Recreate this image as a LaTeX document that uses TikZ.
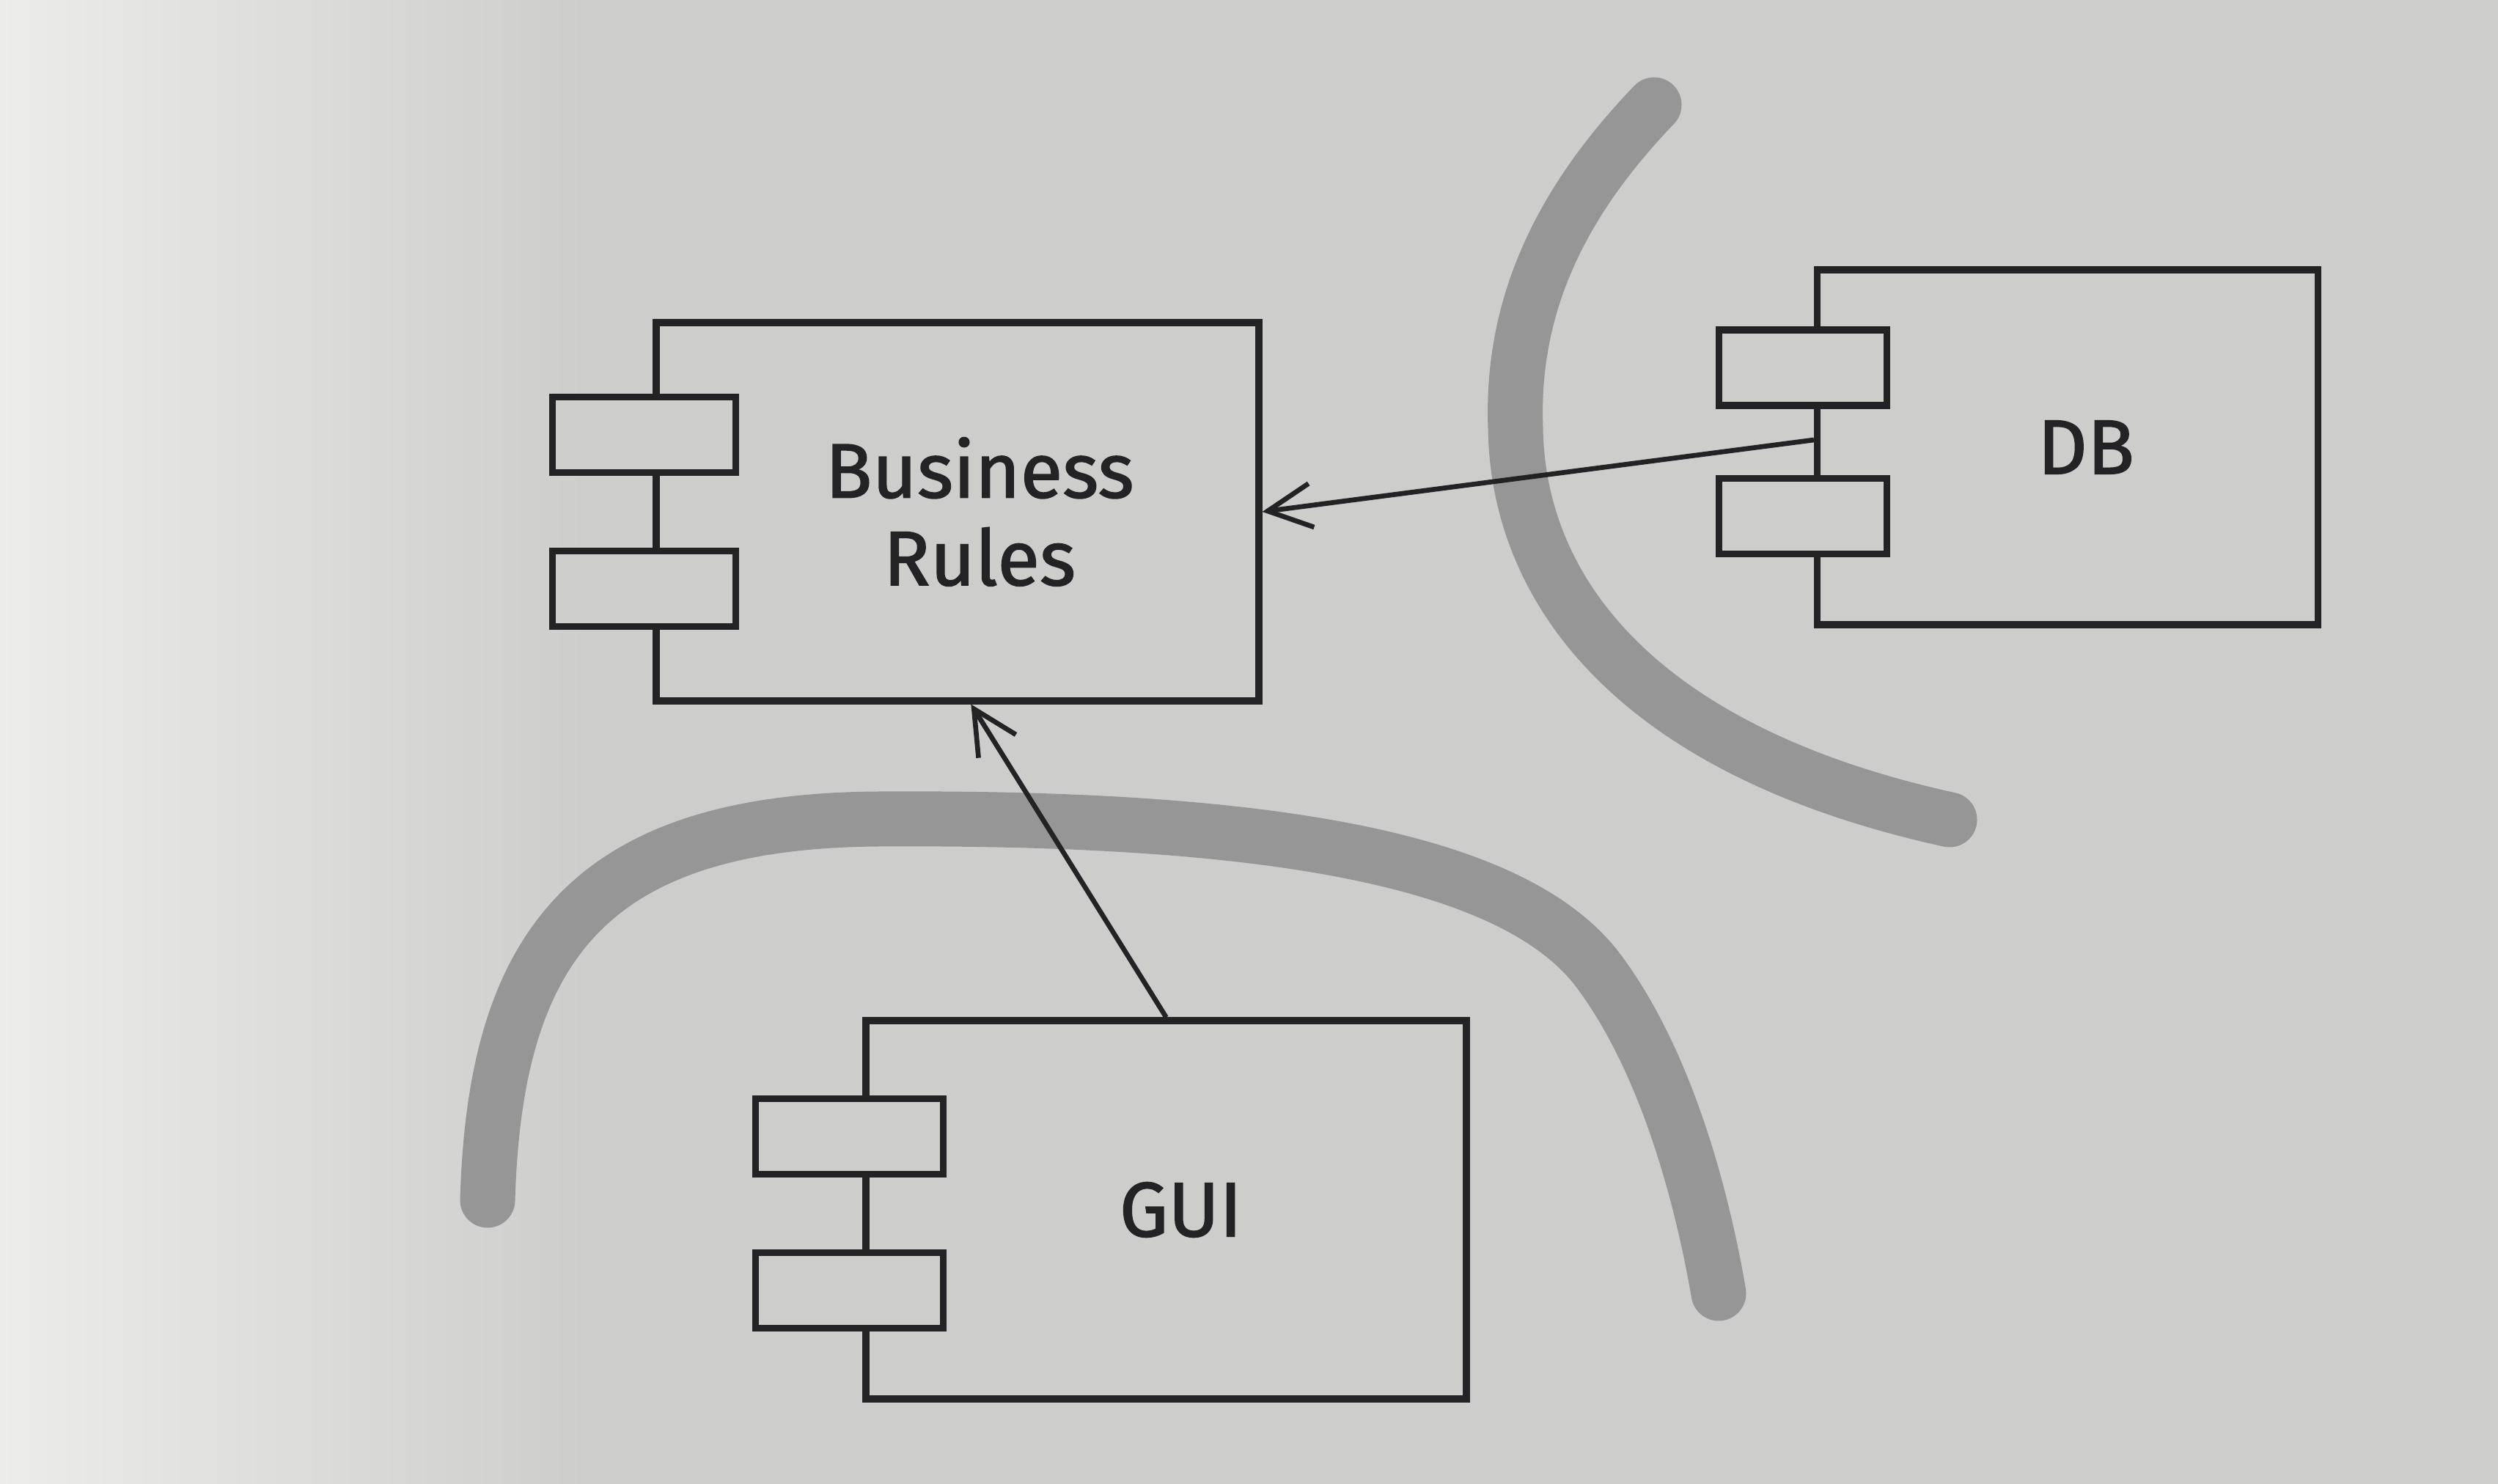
\documentclass[tikz,border=0pt]{standalone}
\usepackage{fontspec}
\setmainfont{Fira Sans}
\newfontfamily\compfont{Fira Sans}[FakeBold=1.4]
\usepackage{xcolor}
\usetikzlibrary{positioning,calc,arrows.meta}
\definecolor{paper}{RGB}{205,205,203}
\definecolor{paperlight}{RGB}{236,236,235}
\definecolor{marker}{RGB}{150,150,150}
\definecolor{ink}{RGB}{35,35,38}

\begin{document}
\begin{tikzpicture}[
            comp/.style={rectangle, draw=ink, line width=2.6pt, align=center, text=ink, font=\compfont\fontsize{30}{34}\selectfont},
            port/.style={rectangle, draw=ink, line width=2.6pt, fill=paper, minimum width=2.5cm, minimum height=1.03cm},
            arrow/.style={-{Straight Barb[length=0.6cm, width=0.6cm, line width=1.9pt]}, line width=1.9pt, ink},
            boundary/.style={line width=0.75cm, line cap=round, marker}
        ]

        % paper
        \fill[paper] (0,0) rectangle (34.07,20.24);
        \shade[left color=paperlight, right color=paper] (0,0) rectangle (8,20.24);

        % boundaries
        \draw[boundary] (22.56,18.81) .. controls (21.4,17.6) and (20.6,16.2) .. (20.67,14.4)
            .. controls (20.7,12.2) and (22.3,10.0) .. (26.59,9.06);
        \draw[boundary] (6.65,3.87) .. controls (6.75,7.3) and (8.0,9.05) .. (12,9.07)
            .. controls (17,9.1) and (20.6,8.6) .. (21.8,7.0)
            .. controls (22.7,5.8) and (23.2,4.0) .. (23.44,2.6);

        \node[comp, minimum width=8.22cm, minimum height=5.16cm] (rules) at (13.06,13.26) {\hspace*{0.6cm}Business\\\hspace*{0.6cm}Rules};
        \node[comp, minimum width=6.83cm, minimum height=4.84cm] (db) at (28.20,14.14) {\hspace*{0.5cm}DB};
        \node[comp, minimum width=8.19cm, minimum height=5.16cm] (gui) at (15.905,3.74) {\hspace*{0.4cm}GUI};

        \node[port, xshift=-0.12cm] (rulesp1) at ($(rules.north west)!0.3!(rules.south west)$) {};
        \node[port, xshift=-0.12cm] (rulesp2) at ($(rules.north west)!0.7!(rules.south west)$) {};
        \node[port, xshift=-0.15cm, minimum width=2.29cm] (dbp1) at ($(db.north west)!0.28!(db.south west)$) {};
        \node[port, xshift=-0.15cm, minimum width=2.29cm] (dbp2) at ($(db.north west)!0.69!(db.south west)$) {};
        \node[port, xshift=-0.18cm, minimum width=2.56cm] (guip1) at ($(gui.north west)!0.31!(gui.south west)$) {};
        \node[port, xshift=-0.18cm, minimum width=2.56cm] (guip2) at ($(gui.north west)!0.71!(gui.south west)$) {};

        \draw[arrow] ($(db.west)+(0,0.1)$) -- (rules.east);
        \draw[arrow] (gui.north) -- (rules.-86);

        \end{tikzpicture}
\end{document}
